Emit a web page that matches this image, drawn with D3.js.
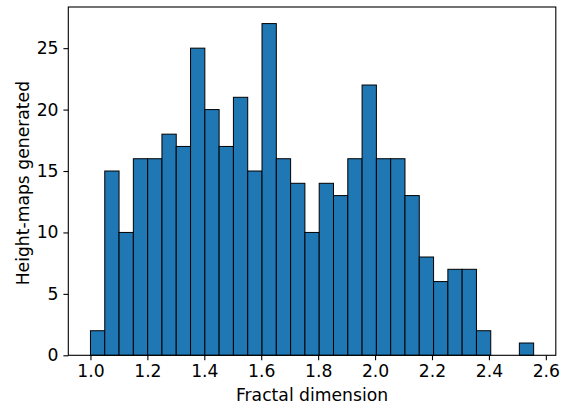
<!DOCTYPE html>
<html><head><meta charset="utf-8">
<script src="https://cdn.jsdelivr.net/npm/d3@7/dist/d3.min.js"></script>
<style>body{margin:0;background:#fff}svg{display:block}text{font-family:"DejaVu Sans",sans-serif}</style>
</head><body>
<script>
const binStart = 1.0;
const binWidth = 0.05023;
const counts = [2,15,10,16,16,18,17,25,20,17,21,15,27,16,14,10,14,13,16,22,16,16,13,8,6,7,7,2,0,0,1];
const xTicks = [1.0,1.2,1.4,1.6,1.8,2.0,2.2,2.4,2.6];
const yTicks = [0,5,10,15,20,25];
const xLabel = "Fractal dimension";
const yLabel = "Height-maps generated";

const W=571,H=410;
const L=68.3,R=555.8,T=7.0,B=355.3;
const svg=d3.select("body").append("svg").attr("width",W).attr("height",H);
const xmin=binStart, xmax=binStart+binWidth*counts.length;
const pad=(xmax-xmin)*0.05;
const x=d3.scaleLinear().domain([xmin-pad,xmax+pad]).range([L,R]);
const ymax=d3.max(counts)*1.05;
const y=d3.scaleLinear().domain([0,ymax]).range([B,T]);

svg.append("g").selectAll("rect").data(counts.map((c,i)=>({c,i})).filter(d=>d.c>0)).join("rect")
 .attr("x",d=>x(binStart+d.i*binWidth)).attr("width",d=>x(binStart+(d.i+1)*binWidth)-x(binStart+d.i*binWidth))
 .attr("y",d=>y(d.c)).attr("height",d=>y(0)-y(d.c))
 .attr("fill","#1f77b4").attr("stroke","#000").attr("stroke-width",1);

const fs=17.2;
const xa=svg.append("g").attr("transform",`translate(0,${B})`)
 .call(d3.axisBottom(x).tickValues(xTicks).tickFormat(d3.format(".1f")).tickSize(4.9).tickPadding(4.9));
const ya=svg.append("g").attr("transform",`translate(${L},0)`)
 .call(d3.axisLeft(y).tickValues(yTicks).tickFormat(d3.format("d")).tickSize(4.9).tickPadding(4.9));
[xa,ya].forEach(a=>{a.select(".domain").remove();a.selectAll("text").attr("font-size",fs).attr("font-family","DejaVu Sans").attr("fill","#000");a.selectAll("line").attr("stroke","#000").attr("stroke-width",1.1);});

svg.append("rect").attr("x",L).attr("y",T).attr("width",R-L).attr("height",B-T)
 .attr("fill","none").attr("stroke","#000").attr("stroke-width",1.1);

svg.append("text").attr("x",(L+R)/2).attr("y",401).attr("text-anchor","middle").attr("font-size",fs).text(xLabel);
svg.append("text").attr("transform",`translate(28.6,${(T+B)/2+2}) rotate(-90)`).attr("text-anchor","middle").attr("font-size",fs).text(yLabel);
</script>
</body></html>
